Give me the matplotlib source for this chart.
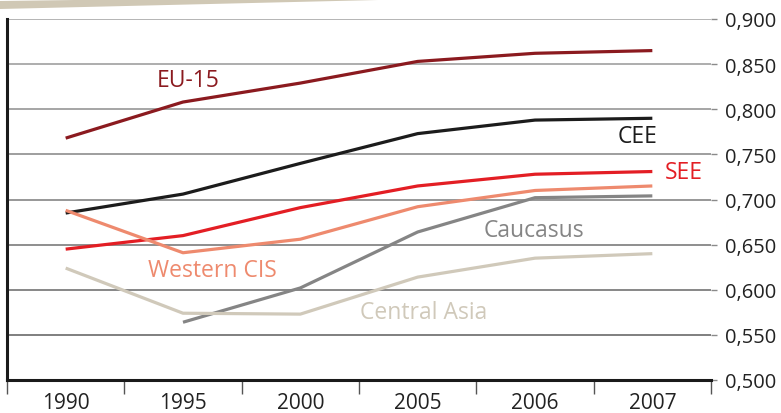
import matplotlib.pyplot as plt
from matplotlib.patches import Polygon
from matplotlib.ticker import FuncFormatter

plt.rcParams['font.family'] = ['Open Sans', 'DejaVu Sans']

years = ['1990', '1995', '2000', '2005', '2006', '2007']
x = list(range(len(years)))

eu15 = [0.768, 0.808, 0.829, 0.853, 0.862, 0.865]
cee = [0.685, 0.706, 0.740, 0.773, 0.788, 0.790]
see = [0.645, 0.660, 0.691, 0.715, 0.728, 0.731]
western_cis = [0.688, 0.641, 0.656, 0.692, 0.710, 0.715]
caucasus = [None, 0.564, 0.602, 0.664, 0.702, 0.704]
central_asia = [0.624, 0.574, 0.573, 0.614, 0.635, 0.640]

# name, values, colour, label position (data coords)
series = [
    ('EU-15', eu15, '#8b1a1f', (1.04, 0.832)),
    ('CEE', cee, '#1c1c1c', (4.87, 0.770)),
    ('SEE', see, '#e31e24', (5.27, 0.730)),
    ('Western CIS', western_cis, '#ee8a6e', (1.25, 0.622)),
    ('Caucasus', caucasus, '#858585', (3.99, 0.666)),
    ('Central Asia', central_asia, '#d0c9ba', (3.05, 0.575)),
]

fig = plt.figure(figsize=(7.81, 4.14), dpi=100)
ax = fig.add_axes([7 / 781, 1 - 381 / 414, 704 / 781, 361 / 414])

# decorative band at the top
band = Polygon([(0, 1 - 2 / 414), (0, 1 - 10 / 414), (420 / 781, 1.0), (0, 1.0)],
               closed=True, transform=fig.transFigure, color='#d0c8b5', lw=0)
fig.patches.append(band)
fig.patches.append(Polygon([(0, 1.0), (0, 1 - 2 / 414), (150 / 781, 1.0)], closed=True,
                           transform=fig.transFigure, color='white', lw=0))

for name, vals, col, pos in series:
    xs = [i for i, v in zip(x, vals) if v is not None]
    ys = [v for v in vals if v is not None]
    ax.plot(xs, ys, color=col, lw=2.3, solid_capstyle='butt', zorder=3)
    ax.text(pos[0], pos[1], name, color=col, fontsize=16.5, ha='center', va='center')

ax.set_xlim(-0.5, 5.5)
ax.set_ylim(0.5, 0.9)
ax.set_yticks([0.5 + 0.05 * i for i in range(9)])
ax.yaxis.set_major_formatter(FuncFormatter(lambda v, p: f'{v:.3f}'.replace('.', ',')))
ax.yaxis.tick_right()
ax.tick_params(axis='y', length=4, width=1, color='#8a8a8a', labelsize=14.5, pad=6,
               labelcolor='#222222')

ax.set_xticks(x)
ax.set_xticklabels(years)
ax.set_xticks([i - 0.5 for i in range(len(years) + 1)], minor=True)
ax.tick_params(axis='x', which='major', length=0, labelsize=15, pad=9, labelcolor='#222222')
ax.tick_params(axis='x', which='minor', length=10, width=1, color='#555555')

ax.grid(axis='y', color='#8f8f8f', lw=1.2, zorder=0)
for i, gl in enumerate(ax.get_ygridlines()):
    shade = 0.38 + 0.035 * i
    gl.set_color((shade, shade, shade))

for s in ['top', 'right']:
    ax.spines[s].set_visible(False)
ax.spines['left'].set_color('#1a1a1a')
ax.spines['left'].set_linewidth(2.2)
ax.spines['bottom'].set_color('#1a1a1a')
ax.spines['bottom'].set_linewidth(2.2)

fig.savefig('out.png', dpi=100)
